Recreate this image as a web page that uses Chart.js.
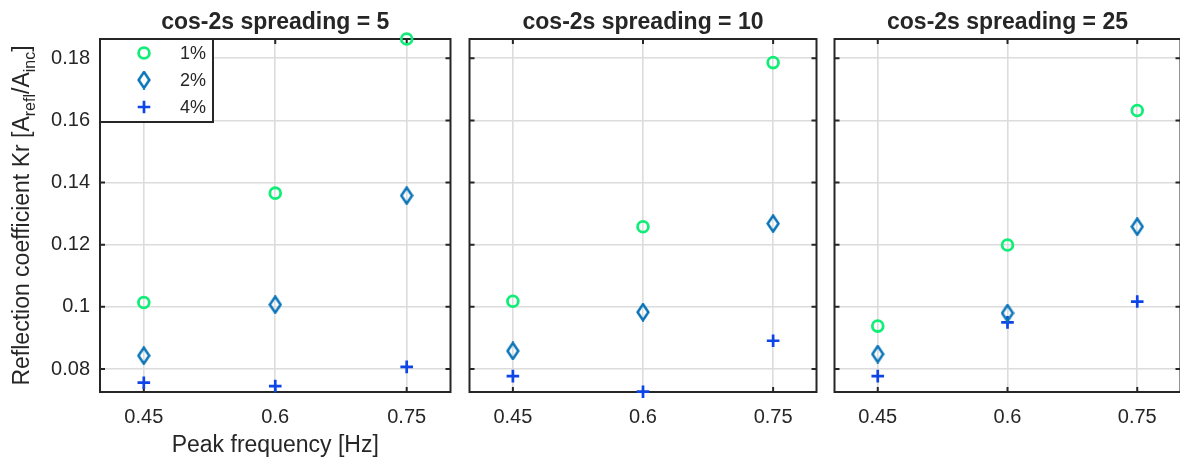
<!DOCTYPE html>
<html>
<head>
<meta charset="utf-8">
<script src="https://cdn.jsdelivr.net/npm/chart.js@4.4.1/dist/chart.umd.min.js"></script>
<style>
  html, body { margin: 0; padding: 0; background: #fff; }
  body { width: 1180px; height: 460px; overflow: hidden; position: relative; }
  canvas { position: absolute; top: 0; }
</style>
</head>
<body>
<canvas id="p1" width="460" height="460" style="left:0px"></canvas>
<canvas id="p2" width="366" height="460" style="left:460px"></canvas>
<canvas id="p3" width="365" height="460" style="left:825px"></canvas>
<script>
// peak frequencies and axis ticks
const freqs = [0.45, 0.6, 0.75];
const xTicks = [0.45, 0.6, 0.75];
const yTicks = [0.08, 0.1, 0.12, 0.14, 0.16, 0.18];
const damping = ['1%', '2%', '4%'];
const spreading = [5, 10, 25];

// reflection coefficient Kr, one array per spreading / series
const kr5_1 = [0.1014, 0.1366, 0.1862];
const kr5_2 = [0.0843, 0.1007, 0.1358];
const kr5_4 = [0.0756, 0.0745, 0.0807];
const kr10_1 = [0.1018, 0.1258, 0.1786];
const kr10_2 = [0.0858, 0.0983, 0.1268];
const kr10_4 = [0.0777, 0.0727, 0.0891];
const kr25_1 = [0.0938, 0.1199, 0.1632];
const kr25_2 = [0.0848, 0.0980, 0.1258];
const kr25_4 = [0.0777, 0.0950, 0.1017];

const textColor = '#262626';
const fontFamily = '"Liberation Sans", Arial, Helvetica, sans-serif';
const green = '#10ee78';
const teal = '#0a74b8';
const blue = '#0d45e6';

function diamondImage(color) {
  const c = document.createElement('canvas');
  c.width = 14;
  c.height = 19;
  const g = c.getContext('2d');
  g.strokeStyle = color;
  g.lineWidth = 2.5;
  g.beginPath();
  g.moveTo(7, 1.5);
  g.lineTo(12.4, 9.5);
  g.lineTo(7, 17.5);
  g.lineTo(1.6, 9.5);
  g.closePath();
  g.stroke();
  return c;
}
const diamond = diamondImage(teal);

function makeDatasets(v1, v2, v4) {
  return [
    {
      label: damping[0],
      data: freqs.map((f, i) => ({ x: f, y: v1[i] })),
      pointStyle: 'circle', radius: 5.4, borderWidth: 2.8,
      borderColor: green, backgroundColor: 'rgba(0,0,0,0)', clip: false
    },
    {
      label: damping[1],
      data: freqs.map((f, i) => ({ x: f, y: v2[i] })),
      pointStyle: diamond, radius: 7, borderWidth: 2.5,
      borderColor: teal, backgroundColor: 'rgba(0,0,0,0)', clip: false
    },
    {
      label: damping[2],
      data: freqs.map((f, i) => ({ x: f, y: v4[i] })),
      pointStyle: 'cross', radius: 6.3, borderWidth: 2.7,
      borderColor: blue, backgroundColor: blue, clip: false
    }
  ];
}

// frame with inward ticks (box on) drawn over the grid
const framePlugin = {
  id: 'frame',
  beforeDatasetsDraw(chart) {
    const { ctx, chartArea: a, scales } = chart;
    ctx.save();
    ctx.strokeStyle = textColor;
    ctx.lineWidth = 2;
    ctx.beginPath();
    scales.y.ticks.forEach(t => {
      const y = scales.y.getPixelForValue(t.value);
      ctx.moveTo(a.left, y); ctx.lineTo(a.left + 5, y);
      ctx.moveTo(a.right, y); ctx.lineTo(a.right - 5, y);
    });
    scales.x.ticks.forEach(t => {
      const x = scales.x.getPixelForValue(t.value);
      ctx.moveTo(x, a.bottom); ctx.lineTo(x, a.bottom - 5);
      ctx.moveTo(x, a.top); ctx.lineTo(x, a.top + 5);
    });
    ctx.stroke();
    ctx.strokeRect(a.left, a.top, a.right - a.left, a.bottom - a.top);
    ctx.restore();
  }
};

// titles, axis labels and the inside legend
const decorPlugin = {
  id: 'decor',
  afterDraw(chart, args, opts) {
    const { ctx, chartArea: a } = chart;
    const cx = (a.left + a.right) / 2;
    ctx.save();
    ctx.fillStyle = textColor;
    ctx.textAlign = 'center';
    ctx.textBaseline = 'alphabetic';
    ctx.font = 'bold 23px ' + fontFamily;
    ctx.fillText(opts.title, cx, 29);

    if (opts.axisTitles) {
      ctx.font = '23px ' + fontFamily;
      ctx.fillText('Peak frequency [Hz]', cx, 452);

      const parts = [
        ['Reflection coefficient Kr [A', false], ['refl', true],
        ['/A', false], ['inc', true], [']', false]
      ];
      const fontOf = sub => (sub ? '16px ' : '23px ') + fontFamily;
      let total = 0;
      parts.forEach(p => { ctx.font = fontOf(p[1]); total += ctx.measureText(p[0]).width; });
      ctx.translate(28.5, (a.top + a.bottom) / 2);
      ctx.rotate(-Math.PI / 2);
      ctx.textAlign = 'left';
      let x = -total / 2;
      parts.forEach(p => {
        ctx.font = fontOf(p[1]);
        ctx.fillText(p[0], x, p[1] ? 6 : 0);
        x += ctx.measureText(p[0]).width;
      });
      ctx.setTransform(1, 0, 0, 1, 0, 0);
    }

    if (opts.legend) {
      const bx = a.left, by = a.top, bw = 113, bh = 83;
      ctx.fillStyle = '#fff';
      ctx.fillRect(bx, by, bw, bh);
      ctx.strokeStyle = textColor;
      ctx.lineWidth = 2;
      ctx.strokeRect(bx, by, bw, bh);
      chart.data.datasets.forEach((ds, i) => {
        const y = by + 14 + i * 27;
        ctx.save();
        ctx.strokeStyle = ds.borderColor;
        ctx.fillStyle = ds.backgroundColor;
        ctx.lineWidth = ds.borderWidth;
        Chart.helpers.drawPoint(ctx, { pointStyle: ds.pointStyle, radius: ds.radius, borderWidth: ds.borderWidth, rotation: 0 }, bx + 44, y);
        ctx.restore();
        ctx.fillStyle = textColor;
        ctx.font = '18px ' + fontFamily;
        ctx.textAlign = 'right';
        ctx.textBaseline = 'middle';
        ctx.fillText(ds.label, bx + 106, y + 1);
      });
    }
    ctx.restore();
  }
};

function makePanel(id, idx, v1, v2, v4, yWidth, showY) {
  return new Chart(document.getElementById(id), {
    type: 'scatter',
    data: { datasets: makeDatasets(v1, v2, v4) },
    plugins: [framePlugin, decorPlugin],
    options: {
      responsive: false,
      animation: false,
      events: [],
      layout: { padding: { top: 39, right: 7, left: 0, bottom: 0 } },
      plugins: {
        legend: { display: false },
        tooltip: { enabled: false },
        decor: {
          title: 'cos-2s spreading = ' + spreading[idx],
          axisTitles: showY,
          legend: idx === 0
        }
      },
      scales: {
        x: {
          type: 'linear', min: 0.4, max: 0.8,
          afterBuildTicks: s => { s.ticks = xTicks.map(v => ({ value: v })); },
          afterFit: s => { s.height = 68; },
          grid: { color: '#dcdcdc', lineWidth: 1.6, drawTicks: false },
          border: { display: false },
          ticks: {
            color: textColor, font: { family: fontFamily, size: 20 },
            padding: 13, maxRotation: 0, autoSkip: false,
            callback: v => String(v)
          }
        },
        y: {
          type: 'linear', min: 0.0726, max: 0.1862,
          afterBuildTicks: s => { s.ticks = yTicks.map(v => ({ value: v })); },
          afterFit: s => { s.width = yWidth; },
          grid: { color: '#dcdcdc', lineWidth: 1.6, drawTicks: false },
          border: { display: false },
          ticks: {
            display: showY,
            color: textColor, font: { family: fontFamily, size: 20 },
            padding: 10, autoSkip: false,
            callback: v => String(v)
          }
        }
      }
    }
  });
}

makePanel('p1', 0, kr5_1, kr5_2, kr5_4, 100, true);
makePanel('p2', 1, kr10_1, kr10_2, kr10_4, 6, false);
makePanel('p3', 2, kr25_1, kr25_2, kr25_4, 6, false);
</script>
</body>
</html>
